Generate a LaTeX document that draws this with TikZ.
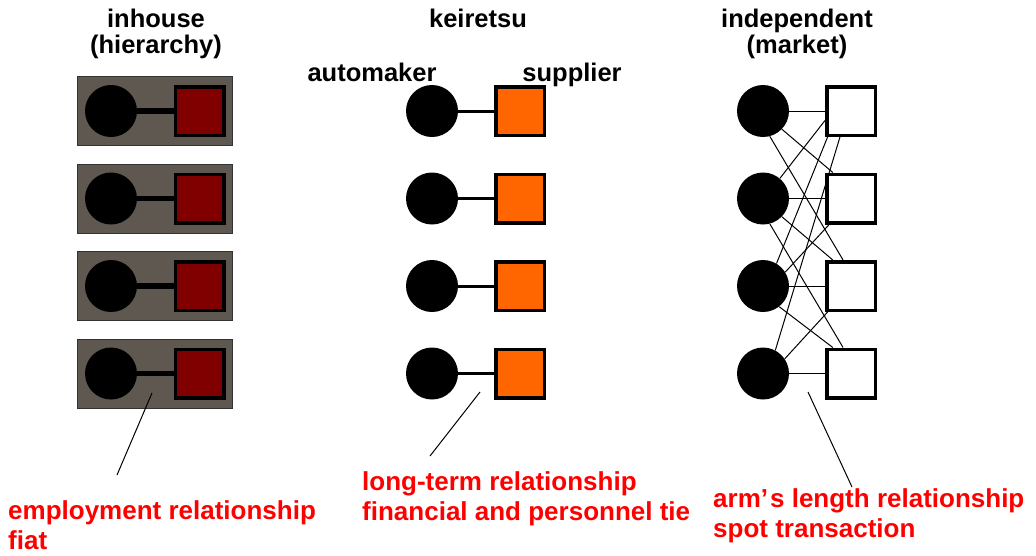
\documentclass[tikz,border=0pt]{standalone}
\usepackage{fontspec}
\setmainfont{Liberation Sans}
\definecolor{boxgray}{HTML}{5F5850}
\definecolor{firmred}{HTML}{800000}
\definecolor{keiorange}{HTML}{FF6600}
\tikzset{
  maker/.style={circle,fill=black,minimum size=52pt,inner sep=0pt},
  supp/.style={rectangle,draw=black,line width=3.5pt,minimum size=48.5pt,inner sep=0pt},
  hdr/.style={font=\bfseries\fontsize{25.5}{30}\selectfont,inner sep=0pt,anchor=base},
  note/.style={font=\bfseries\fontsize{26}{30}\selectfont,text=red,inner sep=0pt,align=left,anchor=north west},
  ptr/.style={line width=1pt},
}

\begin{document}
\begin{tikzpicture}[x=1pt,y=-1pt]
\useasboundingbox (0,0) rectangle (1036,555);

% headings
\node[hdr] (hin) at (156,27) {inhouse};
\node[hdr] (hinb) at (156,53) {(hierarchy)};
\node[hdr] (hke) at (478,27) {keiretsu};
\node[hdr] (hmk) at (797,27) {independent};
\node[hdr] (hmkb) at (797,53) {(market)};
\node[hdr] (hauto) at (372,81) {automaker};
\node[hdr] (hsupp) at (572,81) {supplier};

% inhouse: both firms inside one box
\foreach \i/\y in {1/111,2/198.5,3/286,4/373.5} {
  \node[draw=black!80,fill=boxgray,line width=1pt,minimum width=155pt,minimum height=69pt] (box\i) at (155,\y) {};
  \node[maker] (ia\i) at (111,\y) {};
  \node[supp,fill=firmred] (is\i) at (199.5,\y) {};
  \draw[line width=5.5pt] (ia\i) -- (is\i);
}

% keiretsu: one tie per pair
\foreach \i/\y in {1/111,2/198.5,3/286,4/373.5} {
  \node[maker] (ka\i) at (432,\y) {};
  \node[supp,fill=keiorange] (ks\i) at (520,\y) {};
  \draw[line width=3pt] (ka\i) -- (ks\i);
}

% market: many thin ties
\foreach \i/\y in {1/111,2/198.5,3/286,4/373.5} {
  \node[maker] (ma\i) at (763,\y) {};
  \node[supp,fill=white] (ms\i) at (851,\y) {};
}
\foreach \c/\s/\a/\b in {1/1/0/180,1/2/-44/125,1/3/-75/107,
    2/1/50/200,2/2/0/180,2/3/-44/125,2/4/-75/107,
    3/1/59/228,3/2/32/230,3/3/0/180,3/4/-52/125,
    4/1/62/247,4/3/34/228,4/4/0/180}
  \draw[line width=1pt] (ma\c.\a) -- (ms\s.\b);

% notes
\node[note] (nin) at (8,500) {employment relationship\\fiat};
\node[note] (nke) at (362,471) {long-term relationship\\financial and personnel tie};
\node[note] (nmk) at (713,488) {arm’\kern2pt s length relationship\\spot transaction};

\coordinate (pin) at (152,393);
\coordinate (pinE) at (117,475);
\coordinate (pke) at (480,392);
\coordinate (pkeE) at (430,456);
\coordinate (pmk) at (808,392);
\coordinate (pmkE) at (852,487);
\draw[ptr] (pin) -- (pinE);
\draw[ptr] (pke) -- (pkeE);
\draw[ptr] (pmk) -- (pmkE);
\end{tikzpicture}
\end{document}
